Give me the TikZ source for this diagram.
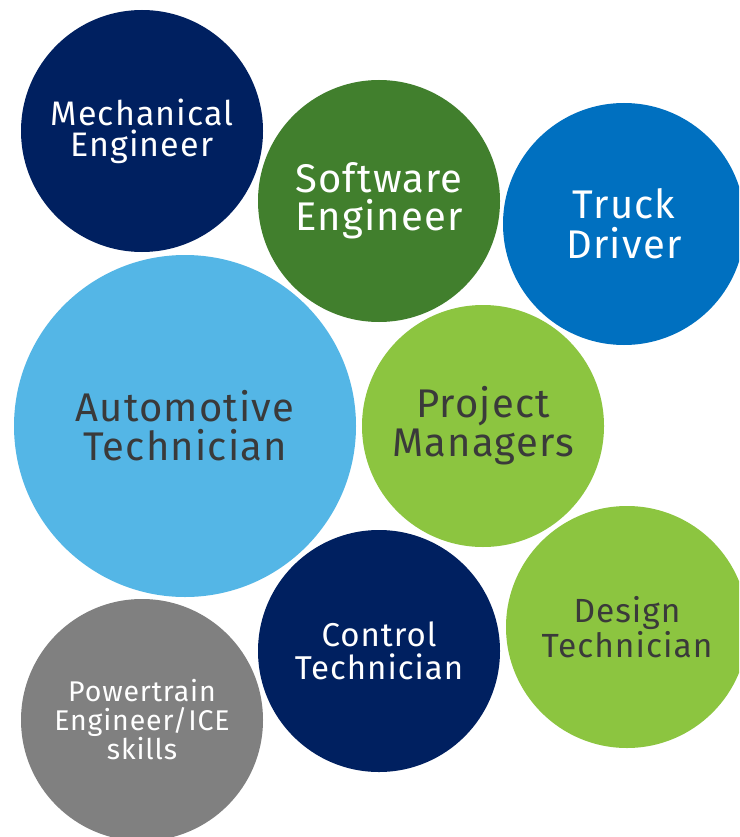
\documentclass[tikz,border=0pt]{standalone}
\usepackage{fontspec}
\setmainfont{Fira Sans}
\newfontfamily\bubblefont[LetterSpace=3]{Fira Sans}
\definecolor{navy}{RGB}{0,32,96}
\definecolor{dkgreen}{RGB}{65,127,45}
\definecolor{midblue}{RGB}{0,112,192}
\definecolor{ltblue}{RGB}{84,182,230}
\definecolor{ltgreen}{RGB}{140,197,64}
\definecolor{bubblegray}{RGB}{128,128,128}
\definecolor{darktext}{RGB}{58,58,58}
\begin{document}
\begin{tikzpicture}[x=1pt,y=-1pt,
  bubble/.style={circle, inner sep=0pt, minimum size=242pt, align=center},
  lighttext/.style={text=white},
  darkfont/.style={text=darktext}]
\useasboundingbox (0,0) rectangle (739,837);
\clip (0,0) rectangle (739,837);
\fill[white] (0,0) rectangle (739,837);
\node[bubble, fill=navy, lighttext, font=\bubblefont\fontsize{34}{31}\selectfont] (mech) at (142,131) {Mechanical\\Engineer};
\node[bubble, fill=dkgreen, lighttext, font=\bubblefont\fontsize{40}{38}\selectfont] (soft) at (379,201) {Software\\Engineer};
\node[bubble, fill=midblue, lighttext, font=\bubblefont\fontsize{40}{40}\selectfont] (truck) at (624,224) {Truck\\Driver};
\node[bubble, minimum size=342pt, fill=ltblue, darkfont, font=\bubblefont\fontsize{40}{39}\selectfont] (auto) at (185,426) {Automotive\\Technician};
\node[bubble, fill=ltgreen, darkfont, font=\bubblefont\fontsize{40}{39}\selectfont] (proj) at (483,426) {Project\\Managers};
\node[bubble, fill=ltgreen, darkfont, font=\bubblefont\fontsize{33.5}{32}\selectfont] (design) at (627,627) {Design\\Technician};
\node[bubble, fill=navy, lighttext, font=\bubblefont\fontsize{33}{33}\selectfont] (control) at (379,651) {Control\\Technician};
\node[bubble, fill=bubblegray, lighttext, font=\bubblefont\fontsize{28.5}{29}\selectfont] (power) at (142,720) {Powertrain\\Engineer/ICE\\skills};
\end{tikzpicture}
\end{document}
